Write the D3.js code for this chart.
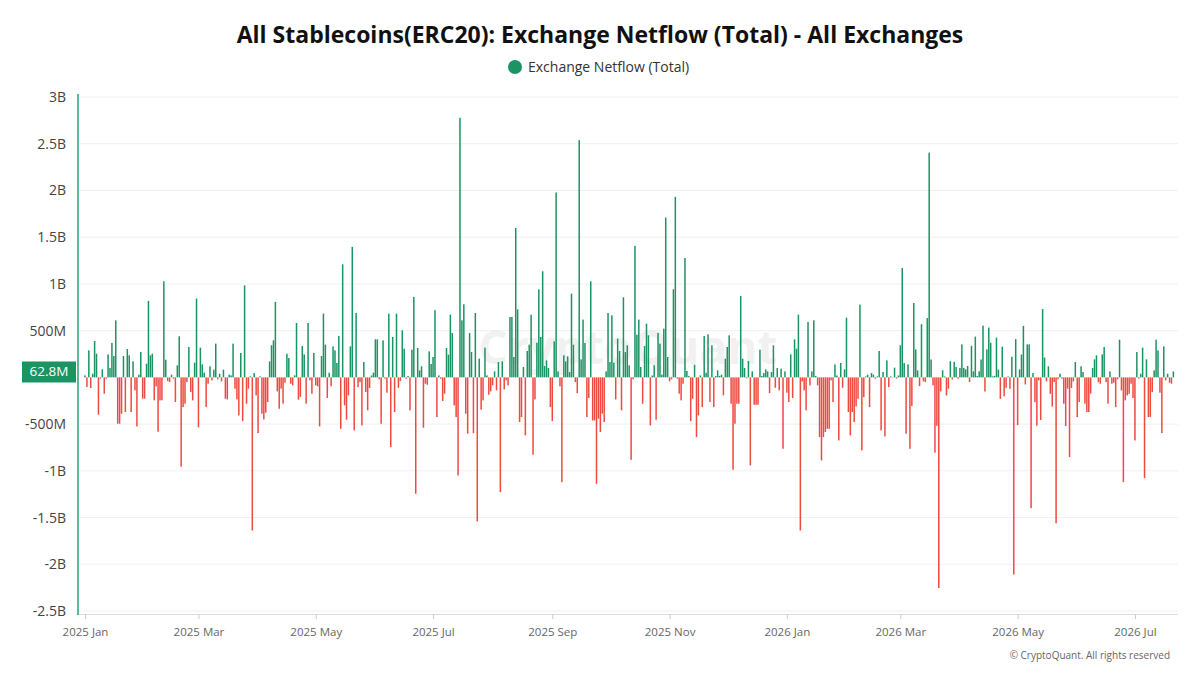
<!DOCTYPE html>
<html><head><meta charset="utf-8">
<script src="https://cdn.jsdelivr.net/npm/d3@7"></script>
<style>body{margin:0;background:#fff}svg{display:block}</style>
</head><body><svg id="c" width="1200" height="675"></svg>
<script>
const title = "All Stablecoins(ERC20): Exchange Netflow (Total) - All Exchanges";
const seriesName = "Exchange Netflow (Total)";
const startDate = "2025-01-01";
// daily netflow, millions USD, one value per day from startDate
const netflowM = [
 21,-103,289,-114,39,389,253,-400,-14,86,-175,-14,246,100,368,228,610,-496,-496,-389,
 228,-371,303,236,-371,171,-139,-525,29,271,-228,-228,146,818,236,253,-246,-96,-582,-246,
 -246,1028,189,-39,-50,29,-14,-264,129,439,-955,-318,-282,-50,325,-157,-246,157,843,-535,
 318,139,50,-318,-68,118,-32,82,361,
 -21,39,-43,82,-228,-236,29,21,361,-121,-236,-407,261,-468,985,-282,-121,11,-1639,46,
 -193,-596,11,-389,-450,-378,-264,171,343,396,807,-150,-336,-121,-282,-57,253,207,-68,-86,
 21,582,-239,-211,336,246,-282,582,-32,-175,261,-86,-96,-525,228,682,350,-221,50,-96,
 332,289,154,443,-550,1210,-300,-453,-193,332,1396,-568,689,-104,
 -50,-514,164,-157,-353,-114,20,50,407,407,-20,-496,396,-14,-164,682,-746,432,-371,682,
 -111,-39,503,307,-14,14,-353,296,860,-1246,314,75,118,-539,-68,-79,278,143,218,718,
 -425,21,-15,-253,-175,314,243,671,475,-300,-425,-1050,2778,610,782,-389,-603,475,271,-596,
 689,-1542,200,-346,-246,318,21,-186,-150,-86,64,-139,164,
 -1228,171,-129,-32,-86,646,646,218,1599,728,-478,-425,111,-621,282,350,671,-828,-236,371,
 942,432,1135,121,182,100,-318,-468,386,1978,64,-96,-1121,236,171,225,57,896,350,-50,
 -168,2538,193,618,368,-425,-221,1028,-461,-461,-1139,-443,-585,-389,-478,64,689,164,664,157,
 -236,414,282,-353,857,271,343,129,-882,-20,1407,457,618,
 111,-282,336,575,450,-514,20,129,-453,475,361,30,521,1710,218,-43,-21,942,1931,-15,
 -175,-246,-68,1278,68,14,-468,-228,136,-639,-407,21,-318,443,50,461,-264,343,-318,14,
 75,15,29,-193,200,325,450,-282,-989,-496,-282,-282,871,200,100,-10,175,-942,64,-293,
 -293,-293,296,15,46,86,64,-168,57,343,-111,100,
 -139,93,-764,64,-164,-264,246,-221,407,307,671,-1639,-43,-139,-353,593,-86,64,610,15,
 -86,-639,-889,-639,-585,-550,-550,-32,-264,139,20,-675,154,-111,86,639,-371,-621,-371,-478,
 -311,-228,778,-782,-211,10,29,-318,46,29,-14,10,282,-568,57,-632,182,-104,10,-4,
 104,-14,20,343,1171,154,-603,139,-764,-307,796,300,75,
 -94,569,-43,-50,634,2405,191,-86,-806,-518,-2254,-151,76,10,-194,-122,173,-22,166,112,
 -14,101,353,101,86,122,-50,338,65,436,15,65,191,554,-151,299,533,371,10,15,
 425,83,-230,328,-202,-112,10,-122,220,-2110,410,-511,86,245,551,-76,353,353,-1400,47,
 -266,-518,-32,-457,731,212,-43,119,-176,-313,-50,-1562,
 -21,39,-14,-282,-521,-121,-853,-114,-43,164,-425,-264,118,57,-282,-371,-371,-175,100,193,
 236,-50,-68,246,325,-50,-282,64,-68,-57,-318,-20,403,-139,-1121,-246,-193,-175,-68,-221,
 -675,271,-14,39,318,-1078,193,-425,-425,-157,75,403,289,-164,-596,332,-32,39,-57,-68,
 62.8
];
const yTicks = [3000,2500,2000,1500,1000,500,-500,-1000,-1500,-2000,-2500];
const yTickLabels = ["3B","2.5B","2B","1.5B","1B","500M","-500M","-1B","-1.5B","-2B","-2.5B"];
const xTickDates = ["2025-01-01","2025-03-01","2025-05-01","2025-07-01","2025-09-01","2025-11-01","2026-01-01","2026-03-01","2026-05-01","2026-07-01"];
const xTickLabels = ["2025 Jan","2025 Mar","2025 May","2025 Jul","2025 Sep","2025 Nov","2026 Jan","2026 Mar","2026 May","2026 Jul"];
const lastLabel = "62.8M";

const GREEN = "#1b9464", RED = "#ee4b40";
const font = "'Open Sans', 'Noto Sans', sans-serif";
const svg = d3.select("#c");
const DAY = 864e5;
const t0 = Date.parse(startDate + "T00:00:00Z");
const data = netflowM.map((v, i) => ({date: new Date(t0 + i * DAY), v}));

const L = 78, R = 1178, T = 97, B = 611;
const x = d3.scaleUtc().domain([new Date(t0 - 3.64 * DAY), new Date(t0 + 568.4 * DAY)]).range([L, R]);
const y = d3.scaleLinear().domain([-2500, 3000]).range([B, T]);

// title + legend
svg.append("text").attr("x", 600).attr("y", 43).attr("text-anchor", "middle")
  .attr("font-family", font).attr("font-weight", 700).attr("font-size", 23).attr("fill", "#111").text(title);
svg.append("circle").attr("cx", 515).attr("cy", 67).attr("r", 7).attr("fill", GREEN);
svg.append("text").attr("x", 528).attr("y", 72).attr("font-family", font).attr("font-size", 14).attr("fill", "#333").text(seriesName);

// grid
svg.append("g").selectAll("line").data(yTicks).join("line")
  .attr("x1", L + 2).attr("x2", R).attr("y1", d => y(d)).attr("y2", d => y(d))
  .attr("stroke", "#f0f0f0").attr("stroke-width", 1);

// watermark
svg.append("text").attr("x", 628).attr("y", 364).attr("text-anchor", "middle")
  .attr("font-family", font).attr("font-weight", 700).attr("font-size", 46).attr("fill", "#000").attr("opacity", 0.05).text("CryptoQuant");

// y labels
svg.append("g").selectAll("text").data(yTicks).join("text")
  .attr("x", 66).attr("y", d => y(d) + 5).attr("text-anchor", "end")
  .attr("font-family", font).attr("font-size", 14).attr("fill", "#444")
  .text((d, i) => yTickLabels[i]);

// x axis
const xg = svg.append("g").attr("transform", `translate(0,${B + 3})`);
xg.call(d3.axisBottom(x).tickValues(xTickDates.map(s => new Date(s + "T00:00:00Z")))
  .tickFormat((d, i) => xTickLabels[i]).tickSize(5).tickSizeOuter(0));
xg.select(".domain").attr("stroke", "#ddd");
xg.selectAll(".tick line").attr("stroke", "#ccc");
xg.selectAll(".tick text").attr("font-family", font).attr("font-size", 11.5).attr("fill", "#666").attr("dy", "1.25em");
xg.select(".domain").attr("d", `M${L},0.5H${R}`);

// bars
const bw = 1.5;
svg.append("g").selectAll("rect").data(data).join("rect")
  .attr("x", d => x(d.date) - bw / 2).attr("width", bw)
  .attr("y", d => y(Math.max(0, d.v))).attr("height", d => Math.abs(y(d.v) - y(0)))
  .attr("fill", d => d.v >= 0 ? GREEN : RED);

// left axis line
svg.append("line").attr("x1", L).attr("x2", L).attr("y1", 94).attr("y2", B + 4).attr("stroke", "#2a9d74").attr("stroke-width", 1.5);

// last value badge
const lv = netflowM[netflowM.length - 1];
svg.append("rect").attr("x", 22).attr("y", y(lv) - 10).attr("width", 54).attr("height", 21).attr("fill", GREEN);
svg.append("text").attr("x", 49).attr("y", y(lv) + 5).attr("text-anchor", "middle")
  .attr("font-family", font).attr("font-size", 13.5).attr("fill", "#fff").text(lastLabel);

// copyright
svg.append("text").attr("x", 1170).attr("y", 659).attr("text-anchor", "end")
  .attr("font-family", font).attr("font-size", 10).attr("fill", "#666").text("© CryptoQuant. All rights reserved");
</script></body></html>
